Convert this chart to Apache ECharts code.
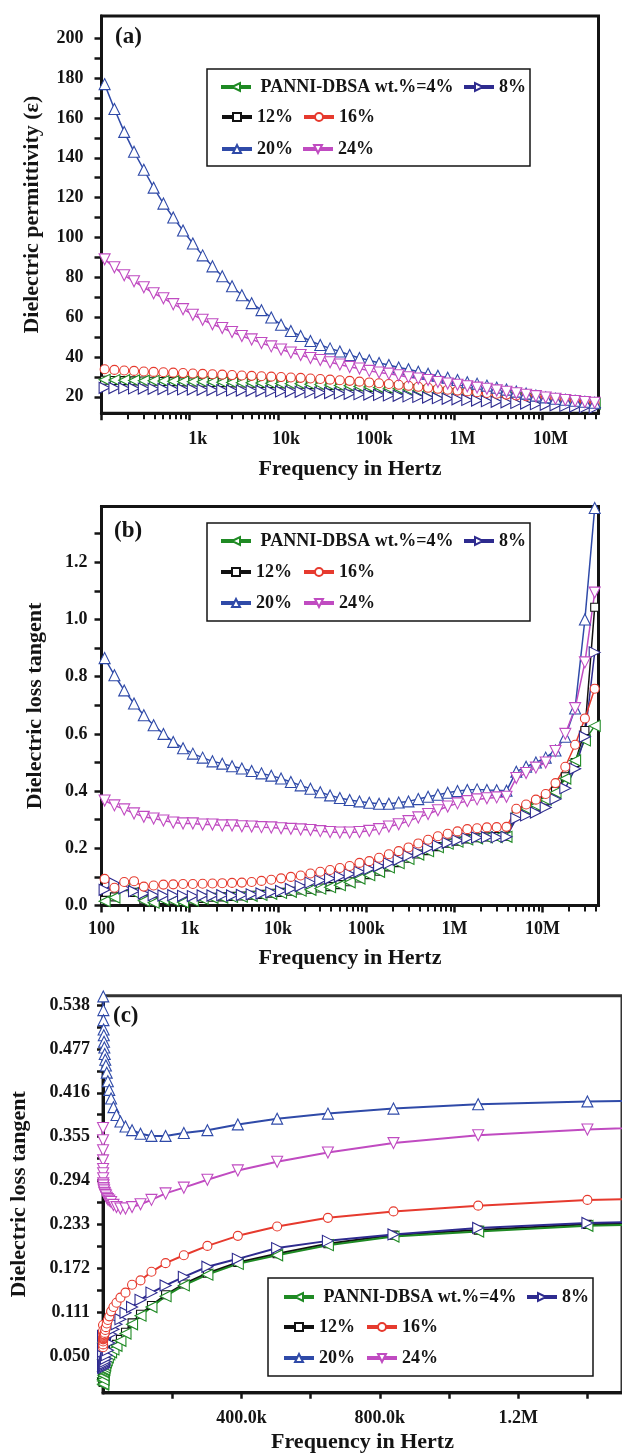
<!DOCTYPE html>
<html><head><meta charset="utf-8">
<script src="https://cdn.jsdelivr.net/npm/echarts@6/dist/echarts.min.js"></script>
<style>html,body{margin:0;padding:0;background:#fff;}#m{position:absolute;left:0;top:0;width:622px;height:1454px;}</style>
</head><body><div id="m"></div>
<script>
// frequency sweep (Hz)
const freq = [108.5,140.1,180.9,233.7,301.8,389.8,503.5,650.3,840.0,1085,1401,1810,2337,3018,3898,5035,6503,8399,10845,14007,18091,23364,30176,38973,50335,65010,83963,108440,140055,180886,233620,301727,389690,503299,650023,839528,1084282,1400000,1808118,2335212,3015966,3895170,5030695,6497228,8391284,10837490,13996830,18077210,23347060,30153290,38943700];
const names = ['PANNI-DBSA wt.%=4%','8%','12%','16%','20%','24%'];

// (a) dielectric permittivity
const perm4  = [28.5,28.4,28.3,28.2,28.1,28.0,27.9,27.8,27.7,27.6,27.5,27.4,27.3,27.2,27.1,27.0,26.9,26.8,26.7,26.6,26.5,26.3,26.1,25.9,25.7,25.5,25.2,24.9,24.6,24.3,24.0,23.5,23.0,22.5,22.0,21.5,21.2,20.9,20.6,20.3,20.0,19.7,19.4,19.1,18.8,18.5,18.1,17.7,17.3,16.9,16.5];
const perm8  = [24.5,24.4,24.3,24.2,24.1,24.0,23.9,23.8,23.7,23.6,23.5,23.4,23.3,23.2,23.1,23.0,22.9,22.8,22.7,22.6,22.5,22.3,22.1,21.9,21.7,21.5,21.3,21.1,20.9,20.7,20.5,20.2,19.9,19.6,19.3,19.0,18.7,18.4,18.1,17.8,17.5,17.2,16.9,16.6,16.3,16.0,15.7,15.4,15.1,14.8,14.5];
const perm12 = [28.3,28.2,28.1,28.0,27.9,27.8,27.7,27.6,27.5,27.4,27.3,27.2,27.1,27.0,26.9,26.8,26.7,26.6,26.5,26.4,26.3,26.1,25.9,25.7,25.5,25.3,25.0,24.7,24.4,24.1,23.8,23.3,22.8,22.3,21.8,21.3,21.0,20.7,20.4,20.1,19.8,19.5,19.2,18.9,18.6,18.3,17.9,17.5,17.1,16.7,16.3];
const perm16 = [33.8,33.5,33.2,33.0,32.7,32.5,32.3,32.1,31.9,31.7,31.5,31.3,31.1,30.9,30.7,30.5,30.3,30.1,29.9,29.7,29.5,29.2,28.9,28.6,28.3,28.0,27.6,27.2,26.8,26.4,26.0,25.5,25.0,24.5,24.0,23.5,23.1,22.7,22.3,21.9,21.5,21.1,20.7,20.3,19.9,19.5,19.0,18.4,17.8,17.2,16.6];
const perm20 = [177,164.5,153,143,134,125,117,110,103.5,97,91,85.5,80.5,75.5,71,67,63.5,59.8,56.2,53,50.5,48,46,44.3,42.7,41,39.5,38.3,37,36,34.7,33.8,32.6,31.6,30.6,29.6,28.4,27.3,26.6,25.6,24.6,23.6,22.6,21.6,20.6,19.7,19,18.5,18,17.5,17];
const perm24 = [89,85,81,78,75,72,69.5,66.5,64,61.2,58.7,56.4,54.5,52.5,50.5,48.8,47,45.3,43.7,42.2,41,39.5,38.5,37.3,36.2,35,34.2,33,32.2,31.6,30.8,29.8,29.2,28.4,27.4,26.7,26,25.3,24.6,24,23.2,22.5,21.8,21,20.3,19.6,19,18.4,17.9,17.4,17];

// (b),(c) dielectric loss tangent
const loss4  = [0.015,0.028,0.068,0.045,0.017,0.01,0.02,0.017,0.011,0.017,0.023,0.027,0.028,0.03,0.031,0.034,0.037,0.041,0.044,0.048,0.052,0.055,0.059,0.064,0.071,0.081,0.094,0.106,0.118,0.133,0.148,0.163,0.178,0.19,0.204,0.216,0.223,0.231,0.235,0.238,0.239,0.24,0.321,0.338,0.35,0.37,0.395,0.444,0.507,0.577,0.628];
const loss8  = [0.055,0.078,0.06,0.05,0.042,0.036,0.035,0.036,0.034,0.033,0.035,0.035,0.036,0.035,0.037,0.039,0.042,0.046,0.051,0.058,0.068,0.08,0.087,0.094,0.101,0.11,0.118,0.128,0.138,0.148,0.16,0.174,0.185,0.2,0.21,0.219,0.228,0.235,0.238,0.239,0.239,0.24,0.304,0.315,0.325,0.343,0.372,0.41,0.478,0.59,0.885];
const loss12 = [0.018,0.03,0.066,0.046,0.02,0.013,0.021,0.019,0.014,0.019,0.025,0.029,0.03,0.032,0.033,0.036,0.039,0.043,0.046,0.05,0.054,0.057,0.061,0.066,0.073,0.083,0.096,0.108,0.12,0.135,0.15,0.165,0.18,0.192,0.206,0.218,0.225,0.233,0.237,0.24,0.241,0.242,0.318,0.335,0.348,0.368,0.40,0.45,0.50,0.612,1.043];
const loss16 = [0.093,0.062,0.082,0.085,0.066,0.07,0.073,0.074,0.075,0.075,0.076,0.077,0.078,0.079,0.08,0.082,0.086,0.09,0.095,0.1,0.105,0.112,0.118,0.124,0.131,0.138,0.149,0.155,0.167,0.179,0.19,0.203,0.217,0.23,0.242,0.251,0.259,0.267,0.27,0.273,0.274,0.275,0.338,0.353,0.37,0.39,0.428,0.485,0.562,0.654,0.758];
const loss20 = [0.865,0.805,0.752,0.706,0.665,0.63,0.6,0.572,0.55,0.531,0.517,0.504,0.496,0.487,0.479,0.47,0.462,0.454,0.444,0.432,0.42,0.408,0.396,0.385,0.376,0.369,0.364,0.359,0.356,0.356,0.36,0.364,0.372,0.38,0.387,0.394,0.4,0.404,0.406,0.404,0.403,0.401,0.468,0.485,0.5,0.517,0.542,0.59,0.689,1.0,1.39];
const loss24 = [0.367,0.35,0.336,0.322,0.31,0.304,0.297,0.29,0.287,0.287,0.283,0.283,0.28,0.28,0.277,0.276,0.274,0.273,0.27,0.268,0.266,0.264,0.26,0.257,0.255,0.255,0.257,0.261,0.267,0.276,0.284,0.295,0.308,0.32,0.333,0.346,0.357,0.365,0.371,0.375,0.378,0.38,0.446,0.463,0.482,0.5,0.54,0.6,0.69,0.85,1.094];

// tick labels
const logMajor = [100,1000,10000,100000,1000000,10000000];
const logMinor = [200,300,400,500,600,700,800,900,2000,3000,4000,5000,6000,7000,8000,9000,20000,30000,40000,50000,60000,70000,80000,90000,200000,300000,400000,500000,600000,700000,800000,900000,2000000,3000000,4000000,5000000,6000000,7000000,8000000,9000000,20000000,30000000,40000000];
const logLabelText = {2:'100',3:'1k',4:'10k',5:'100k',6:'1M',7:'10M'};
const permTicks = [20,30,40,50,60,70,80,90,100,110,120,130,140,150,160,170,180,190,200];
const permLabels = [20,40,60,80,100,120,140,160,180,200];
const lossBTicks = [0,0.1,0.2,0.3,0.4,0.5,0.6,0.7,0.8,0.9,1.0,1.1,1.2,1.3];
const lossBLabels = [0,0.2,0.4,0.6,0.8,1.0,1.2];
const lossCLabels = [0.050,0.111,0.172,0.233,0.294,0.355,0.416,0.477,0.538];
const lossCTicks = [0.0195,0.050,0.0805,0.111,0.1415,0.172,0.2025,0.233,0.2635,0.294,0.3245,0.355,0.3855,0.416,0.4465,0.477,0.5075,0.538];
const linTicks = [200000,400000,600000,800000,1000000,1200000,1400000];
const linLabels = [400000,800000,1200000];
const linLabelText = {400000:'400.0k',800000:'800.0k',1200000:'1.2M'};

const colors = ['#1f8a24','#2e2b8f','#111111','#e63a2e','#2f4aa8','#c04bc1'];
const symbols = ['path://M0,5L10,0L10,10Z','path://M10,5L0,0L0,10Z','rect','circle','path://M5,0L10,10L0,10Z','path://M0,0L10,0L5,10Z'];
const symSizes = [11,11,8,9,11,11];
const FONT = 'Liberation Serif';
const INK = '#141414';

const permSets = [perm4,perm8,perm12,perm16,perm20,perm24];
const lossSets = [loss4,loss8,loss12,loss16,loss20,loss24];
const drawOrder = [2,0,1,3,4,5];

function makeSeries(sets, xIdx, yIdx, lw) {
  return drawOrder.map(i => ({
    type: 'line', name: names[i], xAxisIndex: xIdx, yAxisIndex: yIdx,
    data: freq.map((f, j) => [f, sets[i][j]]),
    symbol: symbols[i], symbolSize: symSizes[i], showAllSymbol: true,
    lineStyle: {color: colors[i], width: lw},
    itemStyle: {color: '#ffffff', borderColor: colors[i], borderWidth: 1.1},
    emphasis: {disabled: true}, clip: true, animation: false
  }));
}

const labelStyle = {fontFamily: FONT, fontWeight: 'bold', fontSize: 18, color: INK};
const nameStyle = {fontFamily: FONT, fontWeight: 'bold', fontSize: 22, color: INK};
const lineSty = {color: INK, width: 3};
const tickSty = {color: INK, width: 2.5};

function logAxes(grid, showHundred, labelPad, margin, nameGap) {
  return [{
    type: 'log', gridIndex: grid, position: 'bottom', min: 100, max: 4.3e7,
    axisLine: {show: true, lineStyle: lineSty},
    axisTick: {show: true, customValues: logMajor, length: 7, lineStyle: tickSty},
    axisLabel: Object.assign({customValues: showHundred ? logMajor : logMajor.slice(1), margin: margin, padding: labelPad,
      formatter: v => logLabelText[Math.round(Math.log10(v))] || ''}, labelStyle),
    splitLine: {show: false}, minorTick: {show: false},
    name: 'Frequency in Hertz', nameLocation: 'middle', nameGap: nameGap, nameTextStyle: nameStyle
  }, {
    type: 'log', gridIndex: grid, position: 'bottom', min: 100, max: 4.3e7,
    axisLine: {show: false},
    axisTick: {show: true, customValues: logMinor, length: 6, lineStyle: {color: INK, width: 2}},
    axisLabel: {show: false}, splitLine: {show: false}
  }];
}

const legendPos = [
  // series name index, panel, left, center y
  [0,0,219,88],[1,0,462,88],[2,0,220,118],[3,0,302,118],[4,0,220,150],[5,0,301,150],
  [0,1,219,542],[1,1,462,542],[2,1,219,573],[3,1,302,573],[4,1,219,604],[5,1,302,604],
  [0,2,282,1298],[1,2,525,1298],[2,2,282,1328],[3,2,365,1328],[4,2,282,1359],[5,2,365,1359]
];
const legends = legendPos.map(p => ({
  data: [names[p[0]]], left: p[2], top: p[3] - 10, orient: 'horizontal',
  itemWidth: 30, itemHeight: 10, itemGap: 0, padding: 0, selectedMode: false,
  lineStyle: {width: 4}, textStyle: {fontFamily: FONT, fontWeight: 'bold', fontSize: 18, color: INK},
  formatter: n => n.indexOf('PANNI') === 0 ? ' ' + n : n, z: 6
}));

const option = {
  backgroundColor: '#ffffff', animation: false,
  grid: [
    {left: 101.5, top: 16, width: 497, height: 397.3, show: true, borderColor: INK, borderWidth: 3, backgroundColor: 'transparent'},
    {left: 101.5, top: 506.5, width: 497, height: 399, show: true, borderColor: INK, borderWidth: 3, backgroundColor: 'transparent'},
    {left: 101.2, top: 995.7, width: 523, height: 399.3, show: true, borderColor: '#333333', borderWidth: 3, backgroundColor: 'transparent'}
  ],
  xAxis: [].concat(
    logAxes(0, false, [0,0,0,16], 17, 45),
    logAxes(1, true, [0,0,0,0], 15, 42),
    [{
      type: 'value', gridIndex: 2, position: 'bottom', min: 0, max: 1500000,
      axisLine: {show: true, lineStyle: lineSty},
      axisTick: {show: true, customValues: linTicks, length: 7, lineStyle: tickSty},
      axisLabel: Object.assign({customValues: linLabels, margin: 16, formatter: v => linLabelText[Math.round(v)] || ''}, labelStyle),
      splitLine: {show: false},
      name: 'Frequency in Hertz', nameLocation: 'middle', nameGap: 38, nameTextStyle: nameStyle
    }]
  ),
  yAxis: [
    {type: 'value', gridIndex: 0, min: 11.7, max: 211.2,
     axisLine: {show: true, lineStyle: lineSty},
     axisTick: {show: true, customValues: permTicks, length: 7, lineStyle: tickSty},
     axisLabel: Object.assign({customValues: permLabels, margin: 18}, labelStyle),
     splitLine: {show: false},
     name: 'Dielectric permittivity (\u03b5)', nameLocation: 'middle', nameGap: 58, nameTextStyle: nameStyle},
    {type: 'value', gridIndex: 1, min: 0, max: 1.395,
     axisLine: {show: true, lineStyle: lineSty},
     axisTick: {show: true, customValues: lossBTicks, length: 7, lineStyle: tickSty},
     axisLabel: Object.assign({customValues: lossBLabels, margin: 14, formatter: v => v.toFixed(1)}, labelStyle),
     splitLine: {show: false},
     name: 'Dielectric loss tangent', nameLocation: 'middle', nameGap: 55, nameTextStyle: nameStyle},
    {type: 'value', gridIndex: 2, min: -0.0016, max: 0.551,
     axisLine: {show: true, lineStyle: lineSty},
     axisTick: {show: true, customValues: lossCTicks, length: 6, lineStyle: tickSty},
     axisLabel: Object.assign({customValues: lossCLabels, margin: 13, formatter: v => v.toFixed(3)}, labelStyle),
     splitLine: {show: false},
     name: 'Dielectric loss tangent', nameLocation: 'middle', nameGap: 73, nameTextStyle: nameStyle}
  ],
  legend: legends,
  graphic: [
    {type: 'rect', shape: {x: 207, y: 69, width: 323, height: 97}, style: {fill: '#fff', stroke: INK, lineWidth: 1.5}, z: 3},
    {type: 'rect', shape: {x: 207, y: 523, width: 323, height: 98}, style: {fill: '#fff', stroke: INK, lineWidth: 1.5}, z: 3},
    {type: 'rect', shape: {x: 268, y: 1278, width: 325, height: 98}, style: {fill: '#fff', stroke: INK, lineWidth: 1.5}, z: 3},
    {type: 'text', left: 115, top: 26, style: {text: '(a)', font: 'bold 23px "Liberation Serif"', fill: INK}, z: 5},
    {type: 'text', left: 114, top: 520, style: {text: '(b)', font: 'bold 23px "Liberation Serif"', fill: INK}, z: 5},
    {type: 'text', left: 113, top: 1005, style: {text: '(c)', font: 'bold 23px "Liberation Serif"', fill: INK}, z: 5}
  ],
  series: [].concat(
    makeSeries(permSets, 0, 0, 1.5),
    makeSeries(lossSets, 2, 1, 1.5),
    makeSeries(lossSets, 4, 2, 2)
  )
};
const chart = echarts.init(document.getElementById('m'), null, {renderer: 'canvas'});
chart.setOption(option);
</script></body></html>
